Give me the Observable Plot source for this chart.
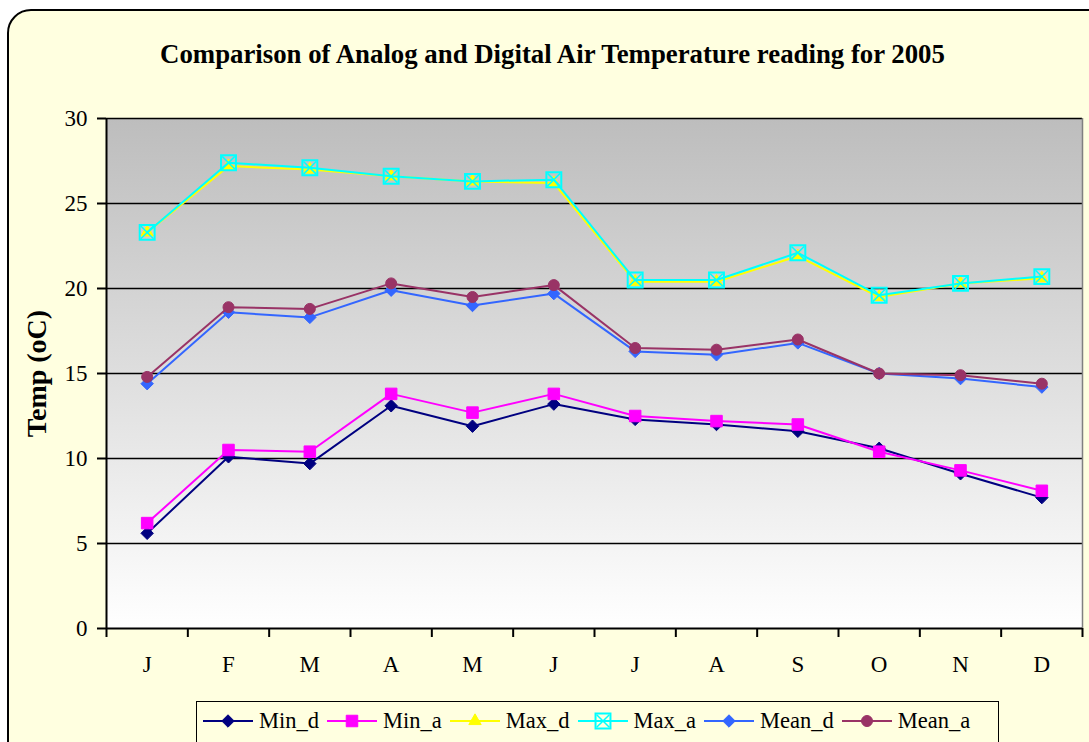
<!DOCTYPE html>
<html>
<head>
<meta charset="utf-8">
<script src="https://cdn.jsdelivr.net/npm/d3@7"></script>
<script src="https://cdn.jsdelivr.net/npm/@observablehq/plot@0.6"></script>
<style>
  body { margin: 0; background: #ffffff; }
  #wrap { position: relative; width: 1089px; height: 742px; overflow: hidden; font-family: "Liberation Serif", "Times New Roman", serif; }
  #frame { position: absolute; left: 7px; top: 9px; width: 1130px; height: 820px; border: 2px solid #000; border-radius: 24px; background: #FFFFE0; box-sizing: border-box; }
  #title { position: absolute; left: 0; width: 1105px; top: 39px; text-align: center; font-weight: bold; font-size: 26.8px; color: #000; white-space: nowrap; }
  #chart { position: absolute; left: 0; top: 0; }
  #legend { position: absolute; left: 196px; top: 701px; width: 803px; height: 70px; border: 1.5px solid #000; background: #FFFFE0; box-sizing: border-box; display: flex; align-items: flex-start; padding: 6px 0 0 6px; gap: 8px; }
  .item { display: flex; align-items: center; gap: 6px; font-size: 22.5px; line-height: 26px; }
</style>
</head>
<body>
<div id="wrap">
  <div id="frame"></div>
  <div id="title"></div>
  <div id="chart"></div>
  <div id="legend"></div>
</div>
<script>
// ---- data ----
const titleText = "Comparison of Analog and Digital Air Temperature reading for 2005";
const yLabel = "Temp (oC)";
const months = ["J", "F", "M", "A", "M", "J", "J", "A", "S", "O", "N", "D"];
const yTicks = [0, 5, 10, 15, 20, 25, 30];
const seriesNames = ["Min_d", "Min_a", "Max_d", "Max_a", "Mean_d", "Mean_a"];
const minD  = [5.6, 10.1, 9.7, 13.1, 11.9, 13.2, 12.3, 12.0, 11.6, 10.6, 9.1, 7.7];
const minA  = [6.2, 10.5, 10.4, 13.8, 12.7, 13.8, 12.5, 12.2, 12.0, 10.4, 9.3, 8.1];
const maxD  = [23.3, 27.2, 27.0, 26.6, 26.3, 26.2, 20.4, 20.4, 21.9, 19.5, 20.3, 20.6];
const maxA  = [23.3, 27.4, 27.1, 26.6, 26.3, 26.4, 20.5, 20.5, 22.1, 19.6, 20.3, 20.7];
const meanD = [14.4, 18.6, 18.3, 19.9, 19.0, 19.7, 16.3, 16.1, 16.8, 15.0, 14.7, 14.2];
const meanA = [14.8, 18.9, 18.8, 20.3, 19.5, 20.2, 16.5, 16.4, 17.0, 15.0, 14.9, 14.4];

// ---- styles ----
const seriesValues = [minD, minA, maxD, maxA, meanD, meanA];
const seriesColors = ["#000080", "#FF00FF", "#FFFF00", "#00FFFF", "#3366FF", "#993366"];
const seriesSymbols = [
  [{symbol: "diamond2", r: 5.6, filled: true}],
  [{symbol: "square", r: 6.5, filled: true}],
  [{symbol: "triangle", r: 4.6, filled: true}],
  [{symbol: "square2", r: 9.5, filled: false, sw: 2}, {symbol: "times", r: 5.8, filled: false, sw: 1.5}],
  [{symbol: "diamond2", r: 5.6, filled: true}],
  [{symbol: "circle", r: 5.5, filled: true}]
];

const monthIdx = d3.range(months.length);
const rows = seriesNames.map((name, s) => seriesValues[s].map((v, i) => ({series: name, i, value: v})));

document.getElementById("title").textContent = titleText;

const marks = [
  Plot.frame({fill: "url(#plotGrad)"}),
  Plot.ruleY(yTicks.slice(1), {stroke: "#000", strokeWidth: 1.6}),
  Plot.ruleX([months.length - 0.5], {stroke: "#808080", strokeWidth: 1.5}),
  Plot.axisY(yTicks, {tickSize: 9, tickPadding: 10, strokeWidth: 2, label: null}),
  Plot.axisX(d3.range(months.length + 1).map(k => k - 0.5), {tickSize: 9, tickFormat: () => "", strokeWidth: 2, label: null}),
  Plot.axisX(monthIdx, {tickSize: 0, tickPadding: 27, tickFormat: i => months[i], label: null}),
  Plot.ruleY([0], {stroke: "#000", strokeWidth: 2}),
  Plot.ruleX([-0.5], {stroke: "#000", strokeWidth: 2}),
  Plot.text([yLabel], {frameAnchor: "left", textAnchor: "middle", rotate: -90, dx: -69, fontWeight: "bold", fontSize: 28})
];

seriesNames.forEach((name, s) => {
  const color = seriesColors[s];
  marks.push(Plot.line(rows[s], {x: "i", y: "value", stroke: color, strokeWidth: 2}));
  seriesSymbols[s].forEach(m => {
    marks.push(Plot.dot(rows[s], {
      x: "i", y: "value", symbol: m.symbol, r: m.r,
      fill: m.filled ? color : "none",
      stroke: color, strokeWidth: m.sw || 1
    }));
  });
});

const svg = Plot.plot({
  width: 1089,
  height: 742,
  marginLeft: 106,
  marginRight: 7,
  marginTop: 118,
  marginBottom: 114,
  style: {background: "transparent", fontFamily: "'Liberation Serif', 'Times New Roman', serif", fontSize: "23px", color: "#000"},
  x: {type: "linear", domain: [-0.5, months.length - 0.5]},
  y: {domain: [0, 30]},
  marks
});

const defs = d3.select(svg).insert("defs", ":first-child");
const grad = defs.append("linearGradient").attr("id", "plotGrad")
  .attr("x1", 0).attr("y1", 0).attr("x2", 0).attr("y2", 1);
grad.append("stop").attr("offset", "0%").attr("stop-color", "#BDBDBD");
grad.append("stop").attr("offset", "100%").attr("stop-color", "#FFFFFF");

document.getElementById("chart").appendChild(svg);

// ---- legend ----
const symbolTypes = {diamond2: d3.symbolDiamond2, square: d3.symbolSquare, triangle: d3.symbolTriangle, square2: d3.symbolSquare2, times: d3.symbolTimes, circle: d3.symbolCircle};
const legend = d3.select("#legend");
seriesNames.forEach((name, s) => {
  const item = legend.append("div").attr("class", "item");
  const sv = item.append("svg").attr("width", 50).attr("height", 22);
  sv.append("line").attr("x1", 0).attr("x2", 50).attr("y1", 11).attr("y2", 11)
    .attr("stroke", seriesColors[s]).attr("stroke-width", 2);
  seriesSymbols[s].forEach(m => {
    sv.append("path")
      .attr("transform", "translate(25,11)")
      .attr("d", d3.symbol().type(symbolTypes[m.symbol]).size(Math.PI * m.r * m.r)())
      .attr("fill", m.filled ? seriesColors[s] : "none")
      .attr("stroke", seriesColors[s])
      .attr("stroke-width", m.sw || 1);
  });
  item.append("span").text(name);
});
</script>
</body>
</html>
